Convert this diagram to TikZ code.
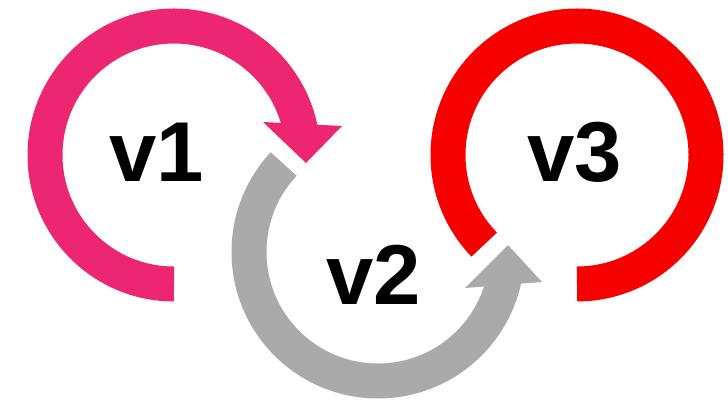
\documentclass[tikz,border=0pt]{standalone}
\usepackage{fontspec}
\setmainfont{Liberation Sans}
\usetikzlibrary{calc}
\definecolor{cyclepink}{RGB}{236,38,112}
\definecolor{cyclegray}{RGB}{170,170,170}
\definecolor{cyclered}{RGB}{246,0,0}
\begin{document}
\begin{tikzpicture}[x=1pt,y=1pt,
  ring/.style={line width=35pt},
  label/.style={anchor=base,inner sep=0pt,font=\fontsize{85}{85}\selectfont\bfseries}]
\useasboundingbox (0,0) rectangle (728,404);
\fill[white] (0,0) rectangle (728,404);
% ring centres
\coordinate (c1) at (174,249);
\coordinate (c2) at (378,152);
\coordinate (c3) at (577,249);
% v1: pink ring ending in a downward arrow
\draw[ring,cyclepink] ($(c1)+(270:129)$) arc[start angle=270,end angle=10,radius=129];
\fill[cyclepink] (263,282) -- (342,278) -- (306,241) -- cycle;
% v2: grey ring ending in an upward arrow
\draw[ring,cyclegray] ($(c2)+(137:129)$) arc[start angle=137,end angle=349,radius=129];
\fill[cyclegray] (465,116) -- (542,122) -- (508,159) -- cycle;
% v3: open red ring
\draw[ring,cyclered] ($(c3)+(224:129)$) arc[start angle=224,end angle=-90,radius=129];
% labels
\node[label] (v1) at (157,222) {v1};
\node[label] (v2) at (374,99) {v2};
\node[label] (v3) at (575,222) {v3};
\end{tikzpicture}
\end{document}
